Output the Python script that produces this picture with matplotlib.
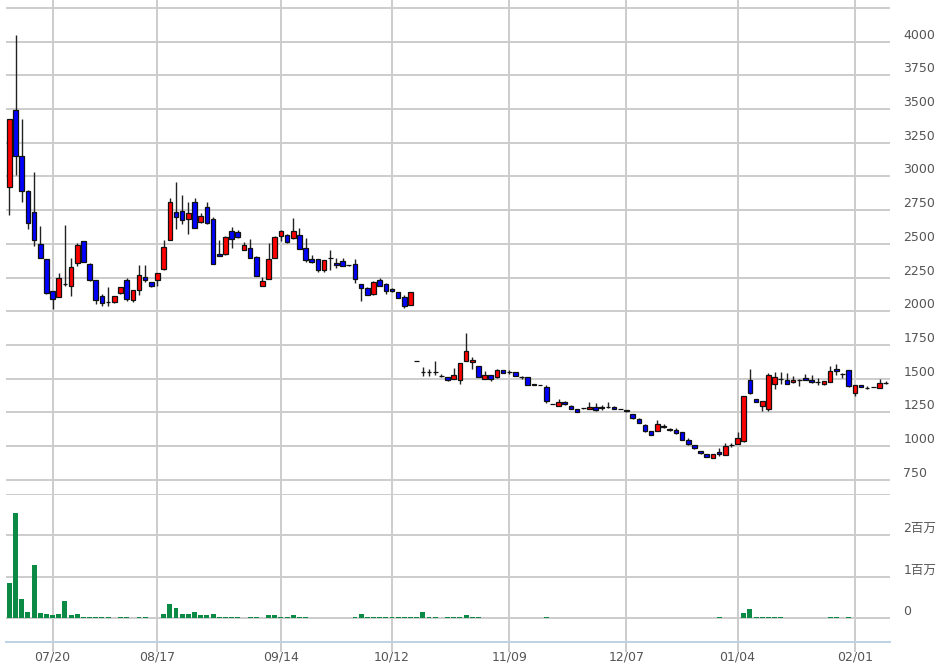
import numpy as np
import matplotlib
matplotlib.use('Agg')
import matplotlib.pyplot as plt

plt.rcParams['font.family'] = ['DejaVu Sans', 'Noto Sans CJK JP']
plt.rcParams['font.size'] = 9

# 日足データ (取引日インデックス順)
opens = [2921, 3490, 3154, 2896, 2734, 2501, 2386, 2148, 2104, 2204,
         2185, 2361, 2521, 2354, 2231, 2111, 2067, 2067, 2136, 2231,
         2087, 2160, 2258, 2214, 2234, 2317, 2528, 2734, 2744, 2685,
         2810, 2663, 2774, 2685, 2422, 2422, 2596, 2588, 2453, 2466,
         2404, 2191, 2238, 2397, 2559, 2564, 2544, 2569, 2471, 2387,
         2387, 2304, 2392, 2358, 2373, 2341, 2348, 2201, 2176, 2127,
         2233, 2201, 2167, 2140, 2103, 2044,
         1633, 1550, 1550, 1550, 1520, 1513, 1496, 1493, 1630, 1623,
         1594, 1501, 1525, 1513, 1562, 1550, 1550, 1510, 1513, 1457,
         1455, 1440, 1313, 1300, 1330, 1300, 1276, 1281, 1274, 1288,
         1286, 1288, 1293, 1274, 1269, 1237, 1203, 1159, 1111, 1111,
         1149, 1129, 1119, 1106, 1042, 1005, 963, 938, 913, 955,
         933, 1007, 1017, 1037, 1490, 1351, 1297, 1272, 1458, 1495,
         1488, 1473, 1488, 1502, 1493, 1478, 1458, 1475, 1574, 1537,
         1564, 1391, 1450, 1433, 1438, 1433, 1470]
highs = [3424, 4049, 3424, 2900, 3036, 2631, 2390, 2150, 2283, 2639,
         2398, 2509, 2521, 2360, 2231, 2126, 2182, 2115, 2180, 2250,
         2160, 2344, 2344, 2220, 2283, 2528, 2840, 2957, 2864, 2808,
         2840, 2730, 2808, 2700, 2527, 2555, 2625, 2600, 2515, 2534,
         2410, 2252, 2510, 2555, 2600, 2575, 2691, 2618, 2544, 2416,
         2387, 2377, 2453, 2392, 2392, 2346, 2387, 2201, 2183, 2226,
         2245, 2208, 2170, 2142, 2123, 2145,
         1633, 1586, 1574, 1635, 1537, 1515, 1579, 1616, 1838, 1660,
         1596, 1555, 1527, 1574, 1564, 1562, 1552, 1520, 1515, 1459,
         1457, 1450, 1315, 1350, 1332, 1302, 1278, 1283, 1330, 1318,
         1305, 1330, 1295, 1276, 1271, 1240, 1205, 1161, 1113, 1191,
         1161, 1131, 1131, 1108, 1062, 1007, 965, 940, 940, 988,
         1025, 1020, 1106, 1371, 1569, 1353, 1334, 1545, 1552, 1552,
         1545, 1520, 1495, 1537, 1527, 1503, 1483, 1594, 1606, 1545,
         1566, 1450, 1452, 1445, 1440, 1495, 1482]
lows = [2717, 3011, 2808, 2607, 2484, 2396, 2126, 2018, 2104, 2190,
        2111, 2337, 2365, 2226, 2055, 2043, 2038, 2060, 2130, 2080,
        2067, 2121, 2214, 2180, 2190, 2307, 2528, 2607, 2651, 2570,
        2619, 2655, 2644, 2349, 2410, 2420, 2466, 2545, 2453, 2392,
        2265, 2191, 2238, 2397, 2520, 2510, 2534, 2461, 2367, 2355,
        2294, 2294, 2306, 2323, 2338, 2336, 2208, 2078, 2118, 2123,
        2191, 2127, 2145, 2096, 2024, 2044,
        1633, 1520, 1520, 1525, 1513, 1484, 1496, 1464, 1630, 1574,
        1513, 1498, 1481, 1508, 1540, 1535, 1518, 1500, 1457, 1455,
        1453, 1318, 1311, 1300, 1308, 1274, 1254, 1279, 1274, 1262,
        1269, 1281, 1274, 1272, 1255, 1200, 1171, 1108, 1080, 1111,
        1136, 1114, 1092, 1043, 1007, 981, 944, 916, 911, 930,
        933, 993, 1017, 1030, 1384, 1325, 1260, 1260, 1421, 1458,
        1461, 1471, 1446, 1491, 1470, 1453, 1453, 1475, 1527, 1503,
        1440, 1371, 1436, 1426, 1436, 1433, 1458]
closes = [3424, 3154, 2896, 2656, 2528, 2396, 2136, 2092, 2244, 2200,
          2332, 2489, 2369, 2231, 2087, 2062, 2067, 2111, 2177, 2092,
          2160, 2268, 2234, 2185, 2283, 2479, 2810, 2700, 2675, 2729,
          2619, 2705, 2656, 2349, 2412, 2549, 2534, 2551, 2495, 2397,
          2265, 2228, 2387, 2551, 2593, 2515, 2593, 2461, 2377, 2368,
          2304, 2377, 2392, 2343, 2338, 2341, 2238, 2176, 2123, 2221,
          2191, 2147, 2147, 2098, 2037, 2140,
          1633, 1550, 1550, 1550, 1520, 1493, 1530, 1616, 1704, 1640,
          1513, 1530, 1501, 1567, 1542, 1550, 1520, 1510, 1457, 1457,
          1455, 1337, 1313, 1330, 1310, 1276, 1256, 1281, 1293, 1269,
          1286, 1288, 1276, 1274, 1257, 1208, 1173, 1110, 1082, 1166,
          1141, 1116, 1099, 1045, 1017, 983, 946, 918, 938, 938,
          1000, 1007, 1062, 1371, 1396, 1327, 1334, 1527, 1512, 1495,
          1463, 1488, 1488, 1493, 1475, 1478, 1483, 1557, 1557, 1537,
          1446, 1450, 1438, 1433, 1438, 1470, 1470]
# 出来高 (百万株)
volumes = [0.85, 2.55, 0.46, 0.15, 1.27, 0.12, 0.10, 0.06, 0.10, 0.40,
           0.06, 0.10, 0.03, 0.01, 0.01, 0.01, 0.01, 0.0, 0.01, 0.01,
           0.0, 0.03, 0.015, 0.0, 0.0, 0.10, 0.34, 0.25, 0.10, 0.10,
           0.13, 0.06, 0.07, 0.10, 0.03, 0.02, 0.03, 0.01, 0.0, 0.01,
           0.01, 0.0, 0.06, 0.06, 0.01, 0.01, 0.06, 0.015, 0.01, 0.0,
           0.0, 0.0, 0.0, 0.0, 0.0, 0.0, 0.01, 0.10, 0.03, 0.01,
           0.01, 0.01, 0.01, 0.03, 0.03, 0.03, 0.01, 0.13, 0.01, 0.01,
           0.0, 0.01, 0.01, 0.01, 0.06, 0.01, 0.01, 0.0, 0.0, 0.0,
           0.0, 0.0, 0.0, 0.0, 0.0, 0.0, 0.0, 0.015, 0.0, 0.0,
           0.0, 0.0, 0.0, 0.0, 0.0, 0.0, 0.0, 0.0, 0.0, 0.0,
           0.0, 0.0, 0.0, 0.0, 0.0, 0.0, 0.0, 0.0, 0.0, 0.0,
           0.0, 0.0, 0.0, 0.0, 0.0, 0.015, 0.0, 0.0, 0.0, 0.12,
           0.22, 0.01, 0.01, 0.01, 0.01, 0.03, 0.0, 0.0, 0.0, 0.0,
           0.0, 0.0, 0.0, 0.03, 0.01, 0.0, 0.01, 0.0, 0.0, 0.0,
           0.0, 0.0, 0.0]

tick_idx = [7, 24, 44, 62, 81, 100, 118, 137]
tick_labels = ['07/20', '08/17', '09/14', '10/12', '11/09', '12/07', '01/04', '02/01']
price_ticks = list(range(750, 4251, 250))
vol_ticks = [0, 1e6, 2e6, 3e6]
vol_labels = ['0', '1百万', '2百万', '']

o = np.array(opens, float)
h = np.array(highs, float)
l = np.array(lows, float)
c = np.array(closes, float)
v = np.array(volumes) * 1e6
x = np.arange(len(o))

grid_c = '#cccccc'
txt_c = '#555555'

fig = plt.figure(figsize=(9.46, 6.64), dpi=100)
ax = fig.add_axes([6/946, 170/664, 884/946, 494/664])
axv = fig.add_axes([6/946, 22/664, 884/946, 148/664])

# ローソク足
ax.vlines(x, l, h, color='#222222', lw=1, zorder=2)
col = np.where(c > o, '#ff0000', np.where(c < o, '#0000ff', '#000000'))
bottom = np.minimum(o, c)
height = np.maximum(np.abs(c - o), 1.0)
ax.bar(x, height, 0.75, bottom=bottom, color=col, edgecolor='#111111', lw=0.9, zorder=3)

ax.set_xlim(-0.55, 142.7)
ax.set_ylim(645, 4309)
ax.set_xticks(tick_idx)
ax.set_xticklabels([])
ax.tick_params(axis='x', length=0)
ax.set_yticks(price_ticks)
ax.set_yticklabels([str(t) if t < 4250 else '' for t in price_ticks])
ax.yaxis.tick_right()
ax.tick_params(axis='y', length=0, pad=9.5, colors=txt_c, labelsize=9)
for lab in ax.get_yticklabels():
    lab.set_va('bottom')
ax.grid(True, color=grid_c, lw=1.4)
ax.set_axisbelow(True)
for s in ax.spines.values():
    s.set_visible(False)

# 出来高
axv.bar(x, np.maximum(v, 0), 0.8, color='#0a8a44', zorder=3)
axv.set_xlim(-0.55, 142.7)
axv.set_ylim(-0.585e6, 3.0e6)
axv.set_yticks(vol_ticks)
axv.set_yticklabels(vol_labels)
axv.yaxis.tick_right()
axv.tick_params(axis='y', length=0, pad=9.5, colors=txt_c, labelsize=9)
for lab in axv.get_yticklabels():
    lab.set_va('bottom')
axv.set_xticks(tick_idx)
axv.set_xticklabels(tick_labels)
axv.tick_params(axis='x', length=7, width=1.4, pad=-1, color=grid_c,
                labelcolor=txt_c, labelsize=9)
axv.grid(True, color=grid_c, lw=1.4)
axv.set_axisbelow(True)
for s in axv.spines.values():
    s.set_visible(False)
axv.spines['bottom'].set_visible(True)
axv.spines['bottom'].set_color('#bcd3e6')
axv.spines['bottom'].set_linewidth(1.4)

fig.savefig('out.png', dpi=100, facecolor='white')
